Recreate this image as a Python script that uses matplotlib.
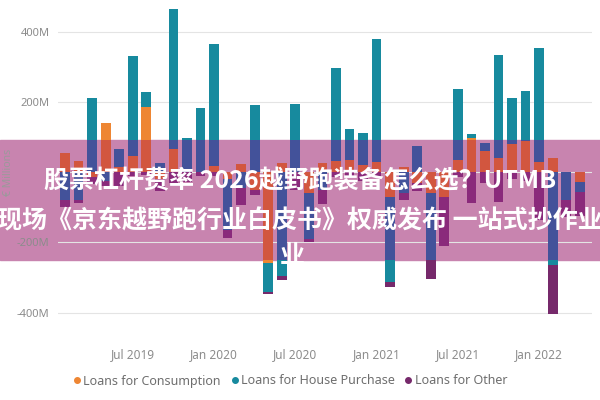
import numpy as np
import pandas as pd
import matplotlib
matplotlib.use("Agg")
import matplotlib.pyplot as plt
from matplotlib.patches import Rectangle
from matplotlib.lines import Line2D

# monthly net flows, millions of euro (rough under the banner)
months = pd.date_range("2019-02-01", periods=39, freq="MS")
consumption = [55, 32, -15, 140, 15, 47, 186, -20, 65, 0, 0, 18, -20, 24, -50, -258, 25, 0, -60, 25,
               32, 35, 20, 30, -72, 15, -30, -60, -70, 35, 97, 60, 41, 80, 89, 30, 40, 0, -28]
house = [-80, -80, 210, -25, 51, 283, 42, 27, 399, 97, 182, 347, -145, -45, 190, -82, -297, 193, -130, -50,
         264, 89, 90, 348, -242, -60, 75, -189, 0, 202, 11, 22, 293, 130, 141, 322, -264, -80, -28]
other = [-20, -8, -20, -15, -40, -12, -8, -35, -30, -28, -10, -12, -23, -50, -15, -6, -9, -50, -8, -40,
         -15, -10, -25, -10, -12, -20, -25, -56, -141, -15, -87, -30, -85, -20, -25, -135, -141, -48, -70]
series_names = ["Loans for Consumption", "Loans for House Purchase", "Loans for Other"]
y_ticks = [-400, -200, 0, 200, 400]
banner_lines = ["股票杠杆费率 2026越野跑装备怎么选？UTMB",
                "现场《京东越野跑行业白皮书》权威发布 一站式抄作业",
                "业"]

colors = ["#EE8633", "#178A9E", "#76296B"]
colors_band = ["#D2563F", "#43529A", "#8A2A7B"]   # same series seen through the pink banner
band_color = "#C884AF"

plt.rcParams["font.family"] = ["Noto Sans", "DejaVu Sans"]

fig = plt.figure(figsize=(6, 4), dpi=100)
ax = fig.add_axes([58 / 600, 0.15, 534 / 600, 0.85])
ax.set_facecolor("none")

# banner goes behind the axes, bars inside it get redrawn darker
band = Rectangle((0, 0.35), 1, 0.3, transform=fig.transFigure, color=band_color, zorder=-1)
fig.add_artist(band)
clip_rect = Rectangle((0, 0.35), 1, 0.3, transform=fig.transFigure)

x = np.arange(len(months))
vals = np.array([consumption, house, other], dtype=float)
pos = np.clip(vals, 0, None)
neg = np.clip(vals, None, 0)
pos_base = np.vstack([np.zeros(len(x)), np.cumsum(pos, axis=0)[:-1]])
neg_base = np.vstack([np.zeros(len(x)), np.cumsum(neg, axis=0)[:-1]])

for cols, clip in [(colors, None), (colors_band, clip_rect)]:
    for k in range(3):
        for h, b in [(pos[k], pos_base[k]), (neg[k], neg_base[k])]:
            bars = ax.bar(x, h, bottom=b, width=0.72, color=cols[k], linewidth=0,
                          zorder=2 if clip is None else 3)
            if clip is not None:
                for p in bars:
                    p.set_clip_path(clip)

ax.set_xlim(-0.52, 38.9)
ax.set_ylim(-478, 490)
ax.set_yticks(y_ticks)
# the 0M label sits under the banner text in the original, so leave it blank
ax.set_yticklabels([f"{v}M" if v != 0 else "" for v in y_ticks])
ax.yaxis.grid(True, color="#e4e4e4", lw=0.8)
ax.set_axisbelow(True)

tick_pos = [i for i, m in enumerate(months) if m.month in (1, 7)]
ax.set_xticks(tick_pos)
ax.set_xticklabels([months[i].strftime("%b %Y") for i in tick_pos])
ax.tick_params(length=0, labelsize=8, colors="#8c8c8c", pad=6)
ax.tick_params(axis="x", pad=6, labelsize=8.5)
for s in ax.spines.values():
    s.set_visible(False)

fig.text(9 / 600, 0.57, "€ Millions", rotation=90, ha="center", va="center",
         fontsize=7.5, color="#9a9a9a")

handles = [Line2D([], [], marker="o", ls="", color=c, markersize=4) for c in colors]
fig.legend(handles, series_names, loc="center left", bbox_to_anchor=(72 / 600, 1 - 381 / 400),
           ncol=3, frameon=False, handletextpad=0.1, columnspacing=0.7, handlelength=0.8,
           fontsize=9, labelcolor="#6e6e6e", borderpad=0, borderaxespad=0)

cjk = ["Noto Sans CJK SC", "DejaVu Sans"]
fig.text(0.5, 1 - 181 / 400, banner_lines[0], ha="center", va="center", fontsize=18,
         fontweight="bold", color="white", family=cjk, zorder=10)
fig.text(0.5, 1 - 221 / 400, banner_lines[1], ha="center", va="center", fontsize=18,
         fontweight="bold", color="white", family=cjk, zorder=10)
fig.text(292 / 600, 1 - 256 / 400, banner_lines[2], ha="center", va="center", fontsize=18,
         fontweight="bold", color="white", family=cjk, zorder=10)

fig.savefig("out.png", dpi=100)
